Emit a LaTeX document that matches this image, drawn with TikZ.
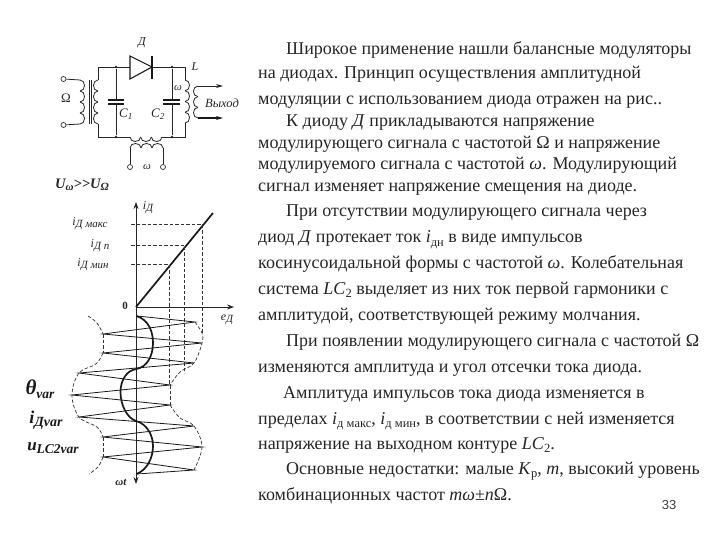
\documentclass[tikz,border=0pt]{standalone}
\usepackage{fontspec}
\setmainfont{Liberation Serif}
\newfontfamily\pagefont{Liberation Sans}
\usetikzlibrary{arrows.meta}
\newcommand\lowtxt[1]{\raisebox{-0.35ex}{\fontsize{11}{12}\selectfont #1}}
\newcommand\lowbody[1]{\raisebox{-0.45ex}{\fontsize{12.5}{13}\selectfont #1}}
\newcommand\vcoil[5]{% x, y0, y1, n, bulge
  \pgfmathsetmacro\coilh{(#3-#2)/#4}
  \foreach \ci in {1,...,#4}{
    \pgfmathsetmacro\ya{#2+(\ci-1)*\coilh}
    \pgfmathsetmacro\yb{#2+\ci*\coilh}
    \draw[wire] (#1,\ya) .. controls (#1+#5,\ya) and (#1+#5,\yb) .. (#1,\yb);
  }}
\newcommand\hcoil[5]{% y, x0, x1, n, bulge
  \pgfmathsetmacro\coilw{(#3-#2)/#4}
  \foreach \ci in {1,...,#4}{
    \pgfmathsetmacro\xa{#2+(\ci-1)*\coilw}
    \pgfmathsetmacro\xb{#2+\ci*\coilw}
    \draw[wire] (\xa,#1) .. controls (\xa,#1+#5) and (\xb,#1+#5) .. (\xb,#1);
  }}
\tikzset{
  wire/.style={line width=0.8pt,black!85},
  thickwire/.style={line width=1.7pt,black!90},
  guide/.style={line width=0.7pt,dash pattern=on 3.5pt off 2pt,black!80},
  zig/.style={line width=0.8pt,black!90},
  term/.style={circle,draw=black!80,line width=0.7pt,fill=white,minimum size=5pt,inner sep=0pt},
  junction/.style={circle,fill=black!85,minimum size=2.8pt,inner sep=0pt},
  para/.style={anchor=base west,inner sep=0pt,font=\fontsize{18}{20}\selectfont,text=black!85},
  lab/.style={inner sep=0pt,font=\fontsize{11}{12}\selectfont\itshape,text=black!85},
  biglab/.style={inner sep=0pt,font=\fontsize{15}{16}\selectfont\bfseries\itshape,text=black!90}
}
\begin{document}
\begin{tikzpicture}[x=1pt,y=-1pt]
\useasboundingbox[fill=white] (0,0) rectangle (720,540);
% ---------- circuit ----------
\node[term] (tl1) at (63.5,79) {};
\node[term] (tl2) at (63.5,125) {};
\coordinate (pa) at (80,80);
\coordinate (pb) at (80,124);
\draw[wire] (tl1) -- (pa);
\draw[wire] (tl2) -- (pb);
\vcoil{80}{80}{124}{4}{6}
\draw[line width=1.3pt,black!85] (89.5,80) -- (89.5,124);
\draw[line width=0.7pt,black!85] (91.5,80) -- (91.5,124);
\vcoil{98}{80}{124}{4}{-6}
\coordinate (tlc) at (98,67);
\coordinate (blc) at (98,137);
\coordinate (trc) at (185,67);
\coordinate (brc) at (185,137);
\node[junction] (j1) at (116,67) {};
\node[junction] (j2) at (116,137) {};
\node[junction] (j3) at (172,67) {};
\node[junction] (j4) at (172,137) {};
\coordinate (da) at (130,67);
\coordinate (dk) at (152,67);
\draw[wire] (98,80) -- (tlc) -- (da);
\draw[wire] (dk) -- (trc) -- (185,80);
\draw[wire] (98,124) -- (blc) -- (130,137);
\draw[wire] (162,137) -- (brc) -- (185,123);
\draw[line width=1.1pt,black!90,fill=white] (130,56) -- (130,79) -- (dk) -- cycle;
\draw[line width=1.3pt,black!90] (152,56) -- (152,79);
% capacitors
\draw[wire] (j1) -- (116,100);
\draw[wire] (j2) -- (116,104);
\draw[thickwire,line width=1.1pt] (108,100) -- (124,100);
\draw[thickwire,line width=1.1pt] (108,104) -- (124,104);
\draw[wire] (j3) -- (172,100);
\draw[wire] (j4) -- (172,104);
\draw[thickwire,line width=1.1pt] (163,100) -- (180,100);
\draw[thickwire,line width=1.1pt] (163,104) -- (180,104);
% right coil and output coil
\vcoil{185}{80}{123}{4}{6}
\vcoil{198}{86}{118}{3}{-6}
\draw[wire,-{Stealth[length=7pt,width=4pt]}] (198,86) -- (223,86);
\draw[thickwire,-{Stealth[length=7pt,width=4pt]}] (198,118) -- (223,118);
% bottom coils
\hcoil{137}{130}{162}{3}{6}
\hcoil{148}{130}{163}{3}{-6}
\node[term] (tb1) at (130,167) {};
\node[term] (tb2) at (163,167) {};
\draw[wire] (tb1) -- (130,148);
\draw[wire] (tb2) -- (163,148);
% circuit labels
\node[lab,font=\fontsize{12}{13}\selectfont\itshape] (lD) at (142,43) {Д};
\node[lab,font=\fontsize{12}{13}\selectfont\itshape] (lL) at (195,67) {L};
\node[lab,font=\fontsize{13}{14}\selectfont\upshape] (lO) at (66,98) {Ω};
\node[lab] (lC1) at (126,114) {\fontsize{13}{14}\selectfont C\textsubscript{1}};
\node[lab] (lC2) at (158,114) {\fontsize{13}{14}\selectfont C\textsubscript{2}};
\node[lab] (lw1) at (178,88) {ω};
\node[lab] (lw2) at (147,167) {ω};
\node[lab,font=\fontsize{12.5}{14}\selectfont\itshape] (lout) at (222,103) {Выход};
\node[lab,font=\fontsize{14.5}{16}\selectfont\bfseries\itshape] (lU) at (82,185) {U\lowtxt{ω}>{}>U\lowtxt{Ω}};
% ---------- characteristic ----------
\coordinate (o) at (136,307);
\coordinate (ytop) at (136,202);
\coordinate (ybot) at (136,484);
\coordinate (xend) at (234,307);
\coordinate (ch) at (213,213);
\draw[wire,-{Stealth[length=7pt,width=5pt]}] (o) -- (ytop);
\draw[wire,-{Stealth[length=7pt,width=5pt]}] (o) -- (ybot);
\draw[wire,-{Stealth[length=7pt,width=5pt]}] (o) -- (xend);
\draw[thickwire] (o) -- (ch);
\draw[guide] (131,224) -- (202,224) -- (202,333);
\draw[guide] (131,245) -- (184.5,245) -- (184.5,373);
\draw[guide] (131,264) -- (169,264) -- (169,385);
\node[lab,font=\fontsize{12}{13}\selectfont\itshape] (li) at (148,208) {i\lowtxt{Д}};
\node[lab] (lmax) at (90,224) {\fontsize{12}{13}\selectfont i\lowtxt{Д макс}};
\node[lab] (ln) at (100,246) {\fontsize{12}{13}\selectfont i\lowtxt{Д п}};
\node[lab] (lmin) at (93,265) {\fontsize{12}{13}\selectfont i\lowtxt{Д мин}};
\node[lab,font=\fontsize{11}{12}\selectfont\bfseries\upshape] (l0) at (125,306) {0};
\node[lab,font=\fontsize{12}{13}\selectfont\itshape] (le) at (227,320) {e\lowtxt{Д}};
% ---------- pulses ----------
\draw[zig] (137,316) -- (195,322) -- (103,334) -- (202,343) -- (103,353) -- (194,363)
  -- (79,373) -- (170,385) -- (72,395) -- (170,405) -- (79,417) -- (194,426)
  -- (103,437) -- (202,447) -- (103,457) -- (194,470) -- (137,474);
\draw[thickwire] (136.5,316) .. controls (149,320) and (153,332) .. (153,343)
  .. controls (153,356) and (147,367) .. (136.5,369)
  .. controls (127,370) and (120.5,380) .. (120.5,392)
  .. controls (120.5,405) and (127,418) .. (136,421)
  .. controls (147,424) and (153,435) .. (153,446)
  .. controls (153,458) and (147,470) .. (136.5,474);
\draw[guide] plot[smooth,tension=0.6] coordinates {(88,316) (97,323) (103,334)};
\draw[guide] (103,334) -- (103,353);
\draw[guide] plot[smooth,tension=0.6] coordinates {(103,353) (96,364) (79,373) (72,395) (79,417) (97,427) (103,437)};
\draw[guide] (103,437) -- (103,457);
\draw[guide] plot[smooth,tension=0.6] coordinates {(103,457) (98,467) (89,474)};
\draw[guide] plot[smooth,tension=0.6] coordinates {(195,322) (202,333) (202,343) (194,363) (180,372) (170,385)};
\draw[guide] (170,385) -- (170,405);
\draw[guide] plot[smooth,tension=0.6] coordinates {(170,405) (180,418) (194,426) (202,447) (194,470)};
% wave labels
\node[biglab,font=\fontsize{21}{24}\selectfont\bfseries\itshape] (lth) at (40,389) {θ\raisebox{-0.4ex}{\fontsize{13.5}{15}\selectfont var}};
\node[biglab,font=\fontsize{18}{20}\selectfont\bfseries\itshape] (lidv) at (46,420) {i\raisebox{-0.4ex}{\fontsize{14}{15}\selectfont Дvar}};
\node[biglab,font=\fontsize{17}{18}\selectfont\bfseries\itshape] (luv) at (53,448) {u\raisebox{-0.4ex}{\fontsize{13.5}{15}\selectfont LC2var}};
\node[lab,font=\fontsize{11}{12}\selectfont\bfseries\itshape] (lwt) at (121,482) {ωt};
% ---------- text ----------
\node[para] (t1) at (286,55) {Широкое применение нашли балансные модуляторы};
\node[para] (t2) at (258,79) {на диодах. Принцип осуществления амплитудной};
\node[para] (t3) at (258,105) {модуляции с использованием диода отражен на рис..};
\node[para] (t4) at (286,127) {К диоду \textit{Д}  прикладываются напряжение};
\node[para] (t5) at (258,149) {модулирующего сигнала с частотой Ω и напряжение};
\node[para] (t6) at (258,170) {модулируемого сигнала с частотой \textit{ω}. Модулирующий};
\node[para] (t7) at (258,192) {сигнал изменяет напряжение смещения на диоде.};
\node[para] (t8) at (286,217) {При отсутствии модулирующего сигнала через};
\node[para] (t9) at (258,243) {диод \textit{Д} протекает ток \textit{i}\lowbody{дн} в виде импульсов};
\node[para] (t10) at (258,268) {косинусоидальной формы с частотой \textit{ω}. Колебательная};
\node[para] (t11) at (258,294) {система \textit{LC}\lowbody{2} выделяет из них  ток первой гармоники с};
\node[para] (t12) at (258,320) {амплитудой, соответствующей режиму молчания.};
\node[para] (t13) at (286,346) {При появлении модулирующего сигнала с частотой Ω};
\node[para] (t14) at (258,372) {изменяются амплитуда и угол отсечки тока диода.};
\node[para] (t15) at (283,398) {Амплитуда импульсов тока диода изменяется в};
\node[para] (t16) at (258,424) {пределах \textit{i}\lowbody{д макс}, \textit{i}\lowbody{д мин}, в соответствии с ней изменяется};
\node[para] (t17) at (258,449) {напряжение на выходном контуре \textit{LC}\lowbody{2}.};
\node[para] (t18) at (286,474) {Основные недостатки: малые \textit{K}\lowbody{р},  \textit{m}, высокий уровень};
\node[para] (t19) at (258,500) {комбинационных частот  \textit{mω}±\textit{n}Ω.};
\node[inner sep=0pt,font=\fontsize{13}{14}\selectfont\pagefont,text=black!75] (pg) at (669,505) {33};
\end{tikzpicture}
\end{document}
